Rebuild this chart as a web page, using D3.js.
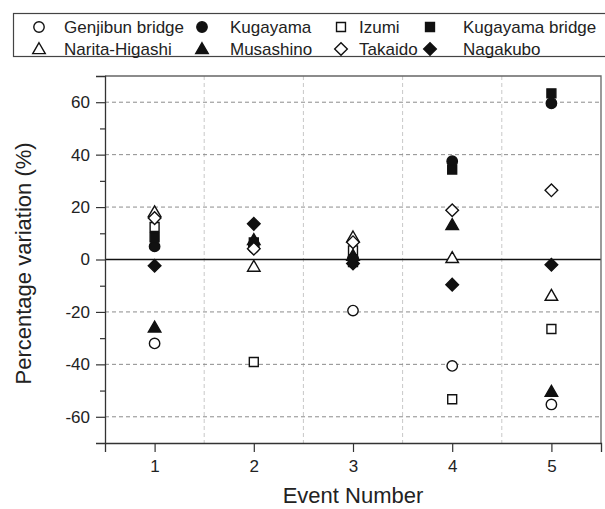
<!DOCTYPE html>
<html>
<head>
<meta charset="utf-8">
<script src="https://cdn.jsdelivr.net/npm/d3@7/dist/d3.min.js"></script>
<style>
  body { margin: 0; background: #fff; }
  svg { display: block; font-family: "Liberation Sans", Arial, sans-serif; }
</style>
</head>
<body>
<div id="chart"></div>
<script>
// data
var events = [1, 2, 3, 4, 5];
var genjibun = [-32.0, 4.5, -19.5, -40.6, -55.3];
var kugayama = [5.0, 5.5, 0.5, 37.5, 59.6];
var izumi = [12.4, -39.1, 3.5, -53.3, -26.5];
var kugayamaBridge = [8.5, 6.5, -1.0, 34.3, 63.4];
var naritaHigashi = [18.1, -2.7, 8.5, 0.6, -13.8];
var musashino = [-25.9, 7.5, 1.5, 13.2, -50.4];
var takaido = [15.8, 4.1, 6.6, 18.8, 26.4];
var nagakubo = [-2.4, 13.6, -1.5, -9.6, -2.0];

var yTicks = [-60, -40, -20, 0, 20, 40, 60];
var yMinor = [-50, -30, -10, 10, 30, 50];
var xGrid = [1.5, 2.5, 3.5, 4.5];

var series = [
  {name: "Genjibun bridge", values: genjibun, shape: "circle", filled: false},
  {name: "Kugayama", values: kugayama, shape: "circle", filled: true},
  {name: "Izumi", values: izumi, shape: "square", filled: false},
  {name: "Kugayama bridge", values: kugayamaBridge, shape: "square", filled: true},
  {name: "Narita-Higashi", values: naritaHigashi, shape: "triangle", filled: false},
  {name: "Musashino", values: musashino, shape: "triangle", filled: true},
  {name: "Takaido", values: takaido, shape: "diamond", filled: false},
  {name: "Nagakubo", values: nagakubo, shape: "diamond", filled: true}
];

var W = 605, H = 509;
var margin = {left: 105, right: 4, top: 76, bottom: 66};

var svg = d3.select("#chart").append("svg")
  .attr("width", W).attr("height", H);

var x = d3.scaleLinear().domain([0.5, 5.5]).range([margin.left, W - margin.right]);
var y = d3.scaleLinear().domain([-70, 70]).range([H - margin.bottom, margin.top]);

// marker paths
function markerPath(shape) {
  if (shape === "circle") return d3.symbol().type(d3.symbolCircle).size(85)();
  if (shape === "square") return d3.symbol().type(d3.symbolSquare).size(80)();
  if (shape === "triangle") return d3.symbol().type(d3.symbolTriangle).size(68)();
  return d3.symbol().type(d3.symbolSquare).size(80)();
}
function markerTransform(shape, px, py) {
  var t = "translate(" + px + "," + py + ")";
  if (shape === "triangle") t += " translate(0,1)";
  if (shape === "diamond") t += " rotate(45)";
  return t;
}

// plain hyphen minus like the original
var fmt = function(d) { return String(d); };

// grid
svg.append("g").selectAll("line").data(xGrid).enter().append("line")
  .attr("x1", function(d) { return x(d); }).attr("x2", function(d) { return x(d); })
  .attr("y1", y(70)).attr("y2", y(-70))
  .attr("stroke", "#c8c8c8").attr("stroke-width", 1).attr("stroke-dasharray", "4,3");

svg.append("g").selectAll("line").data(yTicks.filter(function(d) { return d !== 0; })).enter().append("line")
  .attr("x1", x(0.5)).attr("x2", x(5.5))
  .attr("y1", function(d) { return y(d); }).attr("y2", function(d) { return y(d); })
  .attr("stroke", "#8c8c8c").attr("stroke-width", 1).attr("stroke-dasharray", "4,3");

// zero line
svg.append("line")
  .attr("x1", x(0.5)).attr("x2", x(5.5)).attr("y1", y(0)).attr("y2", y(0))
  .attr("stroke", "#111").attr("stroke-width", 1.3);

// frame top/right
svg.append("path")
  .attr("d", "M" + x(0.5) + "," + y(70) + "H" + x(5.5) + "V" + y(-70))
  .attr("fill", "none").attr("stroke", "#666").attr("stroke-width", 1.3);

// axes
var xAxis = d3.axisBottom(x).tickValues(events).tickSize(9).tickPadding(8)
  .tickFormat(fmt);
svg.append("g").attr("transform", "translate(0," + y(-70) + ")").call(xAxis);

var yAxis = d3.axisLeft(y).tickValues(yTicks).tickSize(9).tickPadding(6)
  .tickFormat(fmt);
svg.append("g").attr("transform", "translate(" + x(0.5) + ",0)").call(yAxis);

svg.append("g").attr("transform", "translate(" + x(0.5) + ",0)")
  .call(d3.axisLeft(y).tickValues(yMinor).tickSize(5).tickFormat(""))
  .select(".domain").remove();

svg.selectAll(".domain").attr("stroke", "#333").attr("stroke-width", 1.3);
svg.selectAll(".tick line").attr("stroke", "#333").attr("stroke-width", 1.2);
svg.selectAll(".tick text").attr("font-size", 17).attr("fill", "#222")
  .attr("font-family", "Liberation Sans, Arial, sans-serif");

// axis titles
svg.append("text")
  .attr("x", (x(0.5) + x(5.5)) / 2).attr("y", 503)
  .attr("text-anchor", "middle").attr("font-size", 22).attr("fill", "#222")
  .text("Event Number");

svg.append("text")
  .attr("transform", "translate(31," + y(-1.5) + ") rotate(-90)")
  .attr("text-anchor", "middle").attr("font-size", 22).attr("fill", "#222")
  .text("Percentage variation (%)");

// points
series.forEach(function(s) {
  svg.append("g").selectAll("path").data(s.values).enter().append("path")
    .attr("d", markerPath(s.shape))
    .attr("transform", function(v, i) { return markerTransform(s.shape, x(events[i]), y(v)); })
    .attr("fill", s.filled ? "#111" : "#fff")
    .attr("stroke", "#111").attr("stroke-width", 1.4);
});

// legend
var legendMarkX = [39, 202, 341, 430];
var legendTextX = [64, 230, 359, 463];
var legendRowY = [27, 49];

svg.append("rect")
  .attr("x", 13.5).attr("y", 13.5).attr("width", 600).attr("height", 43)
  .attr("fill", "#fff").attr("stroke", "#444").attr("stroke-width", 1.2);

var lg = svg.append("g");
series.forEach(function(s, i) {
  var row = i < 4 ? 0 : 1;
  var col = i % 4;
  var ly = legendRowY[row];
  lg.append("path")
    .attr("d", markerPath(s.shape))
    .attr("transform", markerTransform(s.shape, legendMarkX[col], ly))
    .attr("fill", s.filled ? "#111" : "#fff")
    .attr("stroke", "#111").attr("stroke-width", 1.4);
  lg.append("text")
    .attr("x", legendTextX[col]).attr("y", ly).attr("dy", "0.35em")
    .attr("font-size", 17).attr("fill", "#222")
    .text(s.name);
});
</script>
</body>
</html>
